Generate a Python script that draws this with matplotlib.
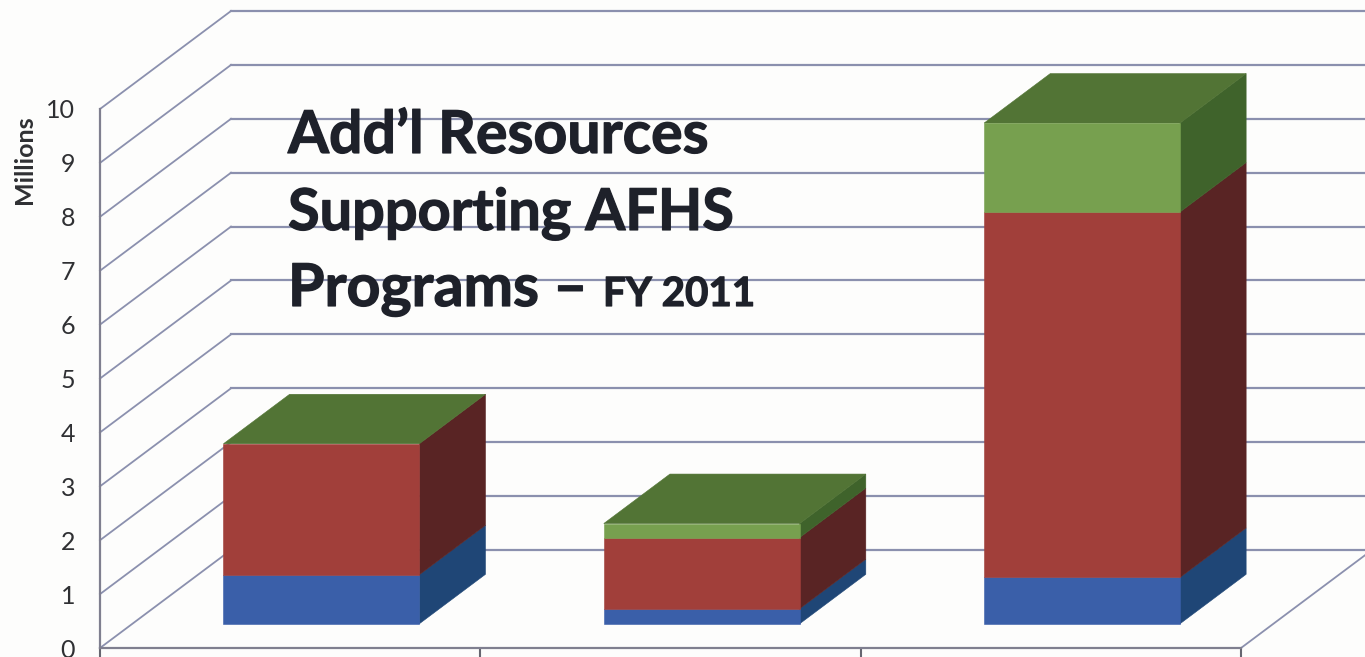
import matplotlib
matplotlib.use("Agg")
import matplotlib.pyplot as plt
import matplotlib.patheffects as pe
from matplotlib.patches import Polygon

# montants par programme, en millions
blue_vals = [0.91, 0.28, 0.86]
red_vals = [2.43, 1.32, 6.78]
green_vals = [0.0, 0.26, 1.65]
value_ticks = list(range(0, 11))

W, H = 1365, 657

# projection oblique : decalage du fond du graphique, en unites des axes
DEPTH_X = 131 / 380.33
DEPTH_Y = 98 / 53.9
BAR_WIDTH = 0.515
BAR_D0 = 0.247
BAR_D1 = 0.752

front = {"blue": "#3a5fa9", "red": "#a13f3a", "green": "#77a04f"}
side = {"blue": "#1f4676", "red": "#592424", "green": "#3f632b"}
top_color = "#527435"
grid_color = "#8b90ae"
ink = "#1d2029"
paper = "#fdfdfc"

plt.rcParams["font.family"] = ["Lato", "DejaVu Sans"]


def proj(x, v, d):
    return (x + d * DEPTH_X, v + d * DEPTH_Y)


def quad(ax, pts, color, z):
    ax.add_patch(Polygon(pts, closed=True, facecolor=color, edgecolor=color,
                         linewidth=0.4, clip_on=False, zorder=z))


fig = plt.figure(figsize=(W / 100, H / 100), dpi=100, facecolor=paper)
ax = fig.add_axes([100 / W, 9 / H, 1141 / W, 539 / H])
ax.set_facecolor("none")
ax.set_xlim(0, 3)
ax.set_ylim(0, 10)

# murs : gauche puis fond
for v in value_ticks:
    x0, y0 = proj(0, v, 0)
    x1, y1 = proj(0, v, 1)
    x2, y2 = proj(3.1, v, 1)
    ax.plot([x0, x1], [y0, y1], color=grid_color, lw=1.3, clip_on=False, zorder=2)
    ax.plot([x1, x2], [y1, y2], color=grid_color, lw=1.6, clip_on=False, zorder=2)

# bord droit du sol
xa, ya = proj(3, 0, 0)
xb, yb = proj(3, 0, 1)
ax.plot([xa, xb], [ya, yb], color=grid_color, lw=1.3, clip_on=False, zorder=2)

# barres empilees
for i in range(3):
    left = i + 0.497 - BAR_WIDTH / 2
    right = left + BAR_WIDTH
    base = 0.0
    for name, vals in (("blue", blue_vals), ("red", red_vals), ("green", green_vals)):
        val = vals[i]
        if val > 0:
            p0 = proj(left, base, BAR_D0)
            p1 = proj(right, base, BAR_D0)
            p2 = proj(right, base + val, BAR_D0)
            p3 = proj(left, base + val, BAR_D0)
            quad(ax, [p0, p1, p2, p3], front[name], 5)
            quad(ax, [p1, proj(right, base, BAR_D1), proj(right, base + val, BAR_D1), p2],
                 side[name], 4)
        base += val
    quad(ax, [proj(left, base, BAR_D0), proj(right, base, BAR_D0),
              proj(right, base, BAR_D1), proj(left, base, BAR_D1)], top_color, 4)

# axes
for s in ("top", "right"):
    ax.spines[s].set_visible(False)
for s in ("left", "bottom"):
    ax.spines[s].set_color("#7f7f8f")
    ax.spines[s].set_linewidth(1.6)
ax.spines["left"].set_zorder(3)
ax.set_xticks([0, 1, 2, 3])
ax.set_xticklabels([])
ax.tick_params(axis="x", length=7, width=1.5, color="#666670")
ax.set_yticks(value_ticks)
ax.tick_params(axis="y", length=0, pad=18, labelsize=18, labelcolor="#2f3033")

fig.text(25 / W, 1 - 160 / H, "Millions", rotation=90, ha="center", va="center",
         fontsize=18, fontweight="bold", color="#2f3033")

# titre : un peu epaissi, les lignes du fond transparaissent legerement
thick = [pe.withStroke(linewidth=0.9, foreground=ink)]
title_kw = dict(ha="left", va="baseline", fontweight="bold", color=ink, zorder=3,
                alpha=0.93, path_effects=thick)
fig.text(288 / W, 1 - 153 / H, "Add\u2019l Resources", fontsize=42.5, **title_kw)
fig.text(288 / W, 1 - 230 / H, "Supporting AFHS", fontsize=41.5, **title_kw)
fig.text(288 / W, 1 - 306 / H, "Programs \u2013", fontsize=42.5, **title_kw)
fig.text(603 / W, 1 - 306 / H, "FY 2011", fontsize=29, **title_kw)

fig.savefig("out.png", dpi=100, facecolor=paper)
